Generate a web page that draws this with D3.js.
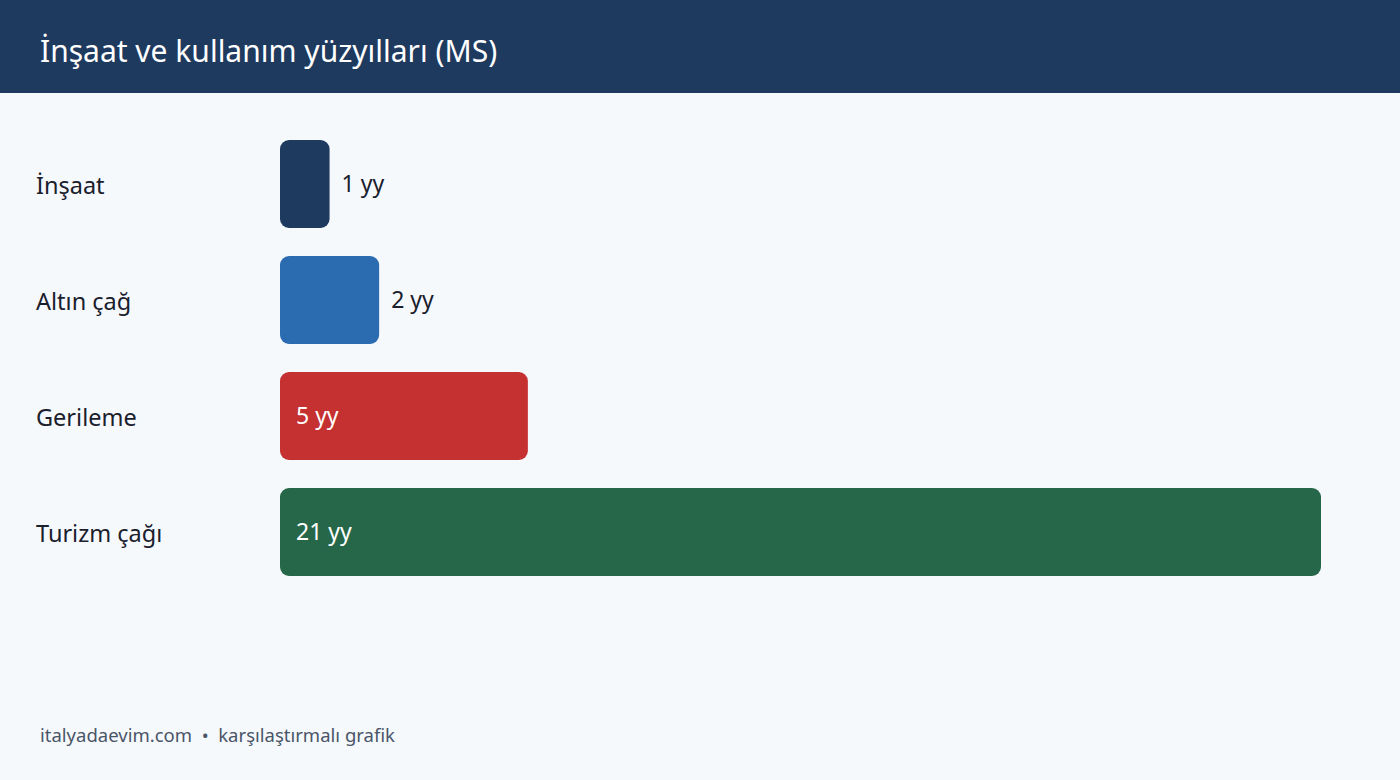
<!DOCTYPE html>
<html lang="tr">
  <head>
    <meta charset="UTF-8" />
    <title>İnşaat ve kullanım yüzyılları (MS)</title>
    <style>
      html, body { margin: 0; padding: 0; background: #f5f9fc; }
      body { width: 1400px; height: 780px; overflow: hidden; font-family: "Noto Sans", "Open Sans", sans-serif; }
    </style>
  </head>
  <body>
    <div class="chart"></div>
    <script src="https://d3js.org/d3.v7.min.js"></script>
    <script>
      // data
      var categories = ["İnşaat", "Altın çağ", "Gerileme", "Turizm çağı"];
      var centuries = [1, 2, 5, 21];
      var barColors = ["#1f3a5f", "#2b6cb0", "#c53030", "#276749"];
      var unit = " yy";
      var title = "İnşaat ve kullanım yüzyılları (MS)";
      var footer = "italyadaevim.com  •  karşılaştırmalı grafik";

      var w = 1400, h = 780;
      var svg = d3.select(".chart").append("svg")
        .attr("width", w)
        .attr("height", h);

      svg.append("rect").attr("width", w).attr("height", h).attr("fill", "#f5f9fc");

      // header band
      svg.append("rect").attr("width", w).attr("height", 93).attr("fill", "#1f3a5f");
      svg.append("text")
        .attr("x", 40).attr("y", 62)
        .attr("fill", "#ffffff")
        .attr("font-size", "30px")
        .text(title);

      var x = d3.scaleLinear().domain([0, 21]).range([280, 1321]);
      var y = d3.scaleBand().domain(categories).range([140, 576]).paddingInner(28 / 116).paddingOuter(0);

      var rows = svg.selectAll("g.row")
        .data(categories)
        .enter()
        .append("g")
        .attr("class", "row");

      rows.append("text")
        .attr("x", 36)
        .attr("y", function(d) { return y(d) + y.bandwidth() / 2 + 2; })
        .attr("dy", "0.35em")
        .attr("fill", "#1a202c")
        .attr("font-size", "23.5px")
        .text(function(d) { return d; });

      rows.append("rect")
        .attr("x", x(0))
        .attr("y", function(d) { return y(d); })
        .attr("width", function(d, i) { return x(centuries[i]) - x(0); })
        .attr("height", y.bandwidth())
        .attr("rx", 9).attr("ry", 9)
        .attr("fill", function(d, i) { return barColors[i]; });

      rows.append("text")
        .attr("x", function(d, i) {
          var bw = x(centuries[i]) - x(0);
          return bw > 150 ? x(0) + 16 : x(centuries[i]) + 12;
        })
        .attr("y", function(d) { return y(d) + y.bandwidth() / 2; })
        .attr("dy", "0.35em")
        .attr("fill", function(d, i) { return (x(centuries[i]) - x(0)) > 150 ? "#ffffff" : "#1a202c"; })
        .attr("font-size", "23px")
        .text(function(d, i) { return centuries[i] + unit; });

      svg.append("text")
        .attr("x", 40).attr("y", 742)
        .attr("fill", "#4a5568")
        .attr("font-size", "18.5px")
        .attr("xml:space", "preserve")
        .style("white-space", "pre")
        .text(footer);
    </script>
  </body>
</html>
